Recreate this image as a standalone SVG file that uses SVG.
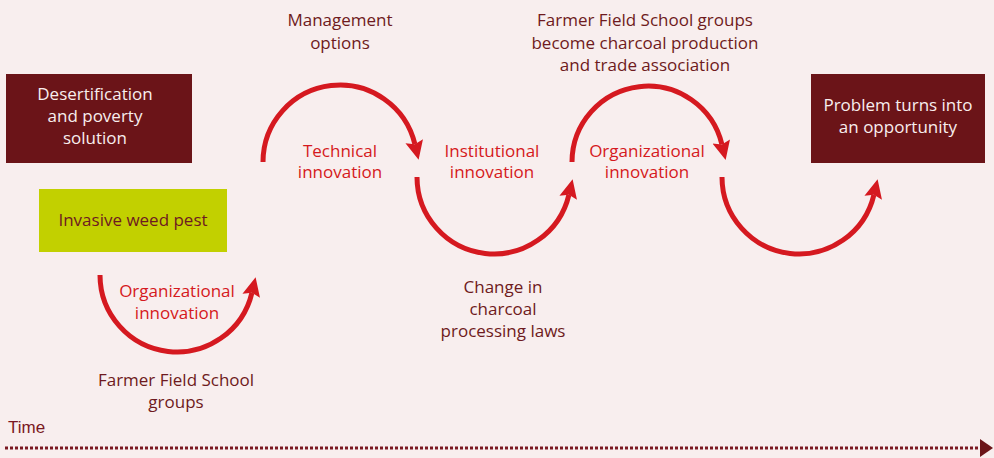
<svg xmlns="http://www.w3.org/2000/svg" width="994" height="458" viewBox="0 0 994 458">
  <style>
    .t { font-family: "Open Sans", "Liberation Sans", sans-serif; font-size: 17px; text-anchor: middle; }
    .white { fill: #f8eeee; }
    .dark { fill: #6e1a20; }
    .red { fill: #d51920; }
    .arc { fill: none; stroke: #d51920; stroke-width: 5; }
    .boxd { fill: #6b1418; }
    .boxg { fill: #c2d000; }
  </style>
  <defs>
    <marker id="ah" markerUnits="userSpaceOnUse" markerWidth="22" markerHeight="22" viewBox="0 -11 22 22" refX="3" refY="0" orient="auto">
      <path d="M0,-9 L19,0 L0,9 L3,0 z" fill="#d51920"/>
    </marker>
  </defs>
  <rect width="994" height="458" fill="#f8eeee"/>

  <g id="node-desertification">
    <rect class="boxd" x="6" y="74" width="186" height="89"/>
    <text class="t white" x="95" y="100">Desertification</text>
    <text class="t white" x="95" y="122">and poverty</text>
    <text class="t white" x="95" y="144">solution</text>
  </g>
  <g id="node-weed">
    <rect class="boxg" x="39" y="189" width="188" height="63"/>
    <text class="t dark" x="133" y="226">Invasive weed pest</text>
  </g>
  <g id="node-opportunity">
    <rect class="boxd" x="811" y="74" width="174" height="89"/>
    <text class="t white" x="898" y="111">Problem turns into</text>
    <text class="t white" x="898" y="133">an opportunity</text>
  </g>

  <g id="node-ffs">
    <text class="t dark" x="176" y="386">Farmer Field School</text>
    <text class="t dark" x="176" y="408">groups</text>
  </g>
  <g id="node-management">
    <text class="t dark" x="340" y="26">Management</text>
    <text class="t dark" x="340" y="49">options</text>
  </g>
  <g id="node-laws">
    <text class="t dark" x="503" y="293">Change in</text>
    <text class="t dark" x="503" y="315">charcoal</text>
    <text class="t dark" x="503" y="337">processing laws</text>
  </g>
  <g id="node-association">
    <text class="t dark" x="645" y="26">Farmer Field School groups</text>
    <text class="t dark" x="645" y="49">become charcoal production</text>
    <text class="t dark" x="645" y="71">and trade association</text>
  </g>

  <g id="connectors">
    <path class="arc" d="M100,275 A77,77 0 0 0 251.9,292.8" marker-end="url(#ah)"/>
    <path class="arc" d="M263,162 A77,77 0 0 1 414.9,144.2" marker-end="url(#ah)"/>
    <path class="arc" d="M417,177 A77,77 0 0 0 568.9,194.8" marker-end="url(#ah)"/>
    <path class="arc" d="M572,162 A76,76 0 0 1 721.9,144.4" marker-end="url(#ah)"/>
    <path class="arc" d="M722,177 A77,77 0 0 0 873.9,194.8" marker-end="url(#ah)"/>
    <text class="t red" x="177" y="297">Organizational</text>
    <text class="t red" x="177" y="319">innovation</text>
    <text class="t red" x="340" y="157">Technical</text>
    <text class="t red" x="340" y="178">innovation</text>
    <text class="t red" x="492" y="157">Institutional</text>
    <text class="t red" x="492" y="178">innovation</text>
    <text class="t red" x="647" y="157">Organizational</text>
    <text class="t red" x="647" y="178">innovation</text>
  </g>

  <g id="timeline">
    <text x="8" y="433" font-family="Liberation Sans, Arial, sans-serif" font-size="17" fill="#7a1822">Time</text>
    <line x1="5" y1="448" x2="980" y2="448" stroke="#7a1822" stroke-width="3" stroke-dasharray="3 2"/>
    <path d="M980,439 L993,448 L980,457 z" fill="#6b1418"/>
  </g>
</svg>
